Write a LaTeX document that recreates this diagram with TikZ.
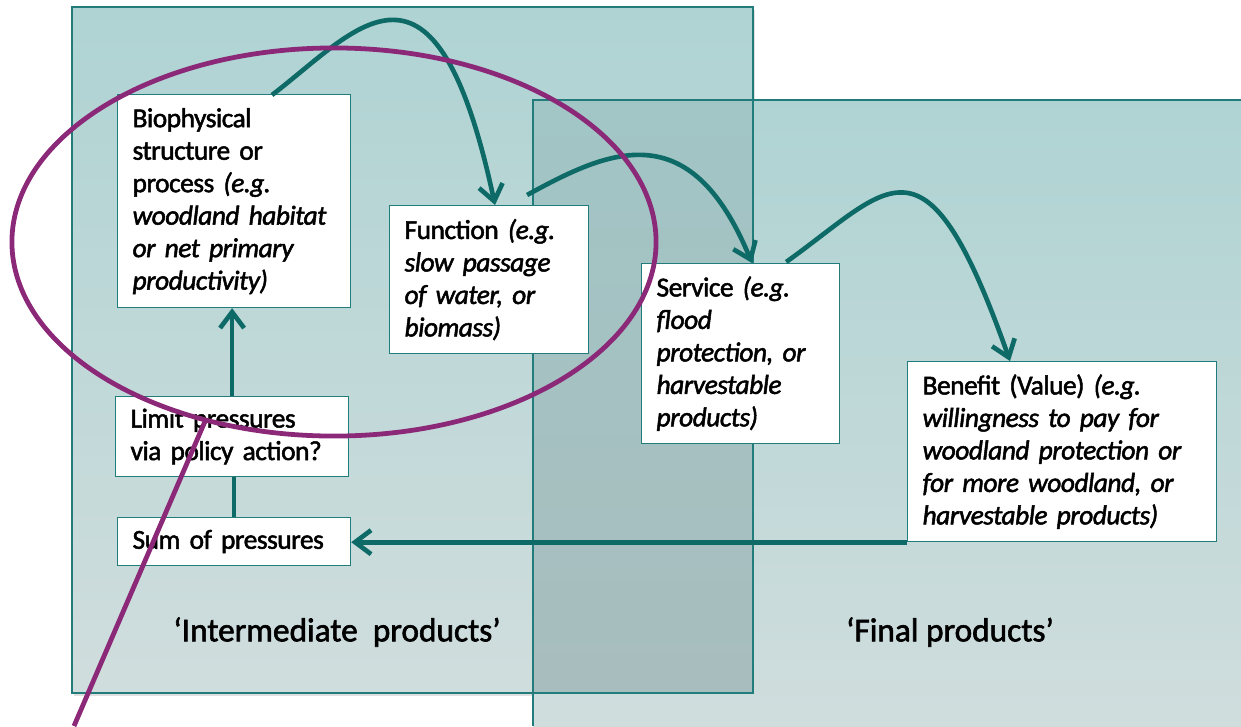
\documentclass[tikz,border=0pt]{standalone}
\usepackage{fontspec}
\setmainfont{Carlito}[FakeBold=1.8]
\newfontfamily\boxfont{Carlito}[FakeBold=1.8, WordSpace=0.6, LetterSpace=-1.8]
\usetikzlibrary{arrows.meta, calc, shadows}
\definecolor{panelTop}{HTML}{AFD3D3}
\definecolor{panelBot}{HTML}{D0DDDD}
\definecolor{overlapTop}{HTML}{A2C5C5}
\definecolor{overlapBot}{HTML}{A8BDBE}
\definecolor{tealEdge}{HTML}{217C7B}
\definecolor{tealFlow}{HTML}{0D6A67}
\definecolor{loopPurple}{HTML}{8B2877}

\begin{document}
\begin{tikzpicture}[x=0.025cm, y=-0.025cm, >={Straight Barb[length=4mm, width=6mm]},
  box/.style={draw=tealEdge, fill=white, thick, anchor=north west, align=left,
    inner xsep=0.375cm, inner ysep=2pt, font=\boxfont\fontsize{19.5}{23.1}\selectfont},
  link/.style={draw=tealFlow, line width=3.3pt},
  panel/.style={draw=tealEdge, thick},
  caption/.style={font=\fontsize{23.7}{28}\selectfont}]
  \useasboundingbox (0,0) rectangle (1241,726);

  \fill[top color=panelTop, bottom color=panelBot,
    drop shadow={opacity=0.25, shadow xshift=1.5pt, shadow yshift=-2pt}] (72,7) rectangle (753,693);
  \fill[top color=panelTop, bottom color=panelBot] (533,100) rectangle (1241,726);
  \fill[top color=overlapTop, bottom color=overlapBot] (533,100) rectangle (753,693);
  \draw[panel] (72,7) rectangle (753,693);
  \draw[panel] (1241,100) -- (533,100) -- (533,726);

  \node[caption] (inter) at (337,632) {‘Intermediate\ \ products’};
  \node[caption] (final) at (950,632) {‘Final products’};

  \node[box, text width=5.075cm, minimum height=5.325cm] (bio) at (117,94)
    {Biophysical\\structure or\\process \textit{(e.g.}\\\textit{woodland habitat}\\\textit{or net primary}\\\textit{productivity)}};
  \node[box, text width=4.225cm, minimum height=3.7cm] (func) at (389,205)
    {Function \textit{(e.g.}\\\textit{slow passage}\\\textit{of water, or}\\\textit{biomass)}};
  \node[box, text width=4.2cm, minimum height=4.5cm] (serv) at (641,263)
    {Service \textit{(e.g.}\\\textit{flood}\\\textit{protection, or}\\\textit{harvestable}\\\textit{products)}};
  \node[box, text width=6.975cm, minimum height=4.5cm] (ben) at (907,361)
    {Benefit (Value) \textit{(e.g.}\\\textit{willingness to pay for}\\\textit{woodland protection or}\\\textit{for more woodland, or}\\\textit{harvestable products)}};
  \node[box, text width=5.075cm, minimum height=2cm] (limit) at (115,396)
    {Limit pressures\\via policy action?};
  \node[box, text width=5.075cm, minimum height=1.2cm] (sum) at (117,517)
    {Sum of pressures};

  \draw[link, ->] ($(bio.north west)+(155,1)$) .. controls +(85,-65) and +(-60,-280) .. ($(func.north west)+(106,0)$);
  \draw[link, ->] ($(func.north)+(38,-10)$) .. controls +(82,-45) and +(-62,-150) .. ($(serv.north west)+(111,0)$);
  \draw[link, ->] ($(serv.north east)+(-54,-1)$) .. controls +(105,-75) and +(-85,-240) .. ($(ben.north west)+(103,0)$);
  \draw[link, ->] (limit.north) -- (limit.north |- bio.south);
  \draw[link] (sum.north) -- (sum.north |- limit.south);
  \draw[link, ->] (ben.south west) -- (ben.south west -| sum.east);

  \coordinate (tailtop) at (206,419);
  \coordinate (tailend) at (74,726);
  \draw[loopPurple, line width=3.4pt] (334,242) ellipse [x radius=8.05cm, y radius=4.85cm];
  \draw[loopPurple, line width=3.4pt] (tailtop) -- (tailend);
\end{tikzpicture}
\end{document}
